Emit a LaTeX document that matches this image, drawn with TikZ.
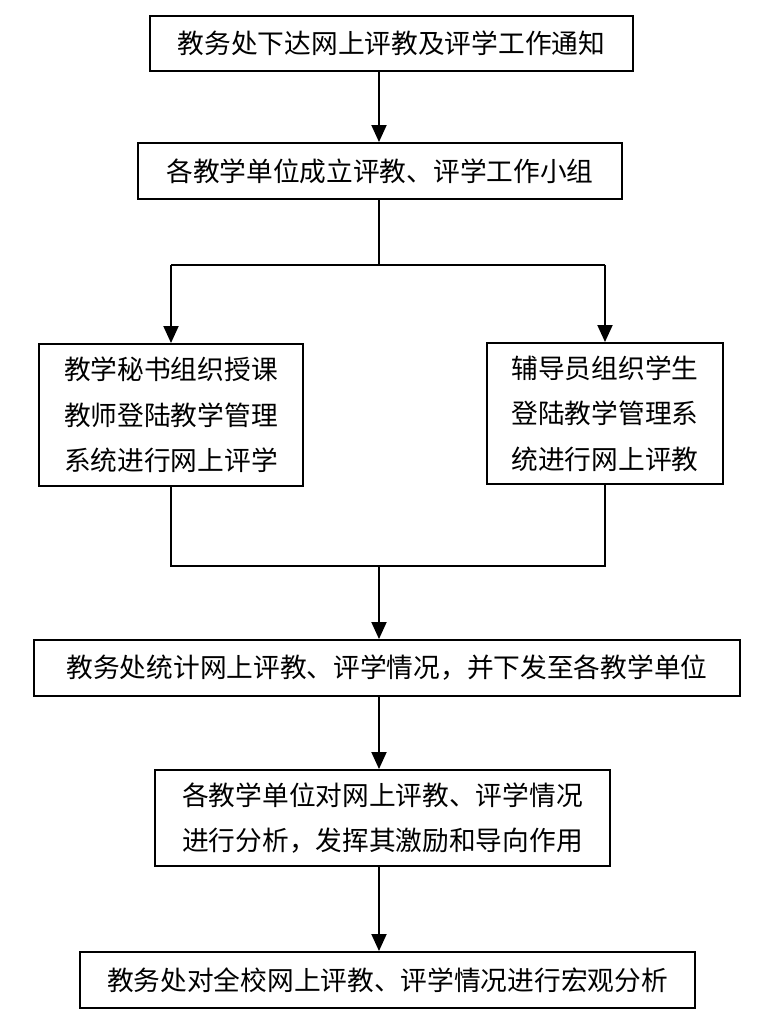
\documentclass[tikz,border=0pt]{standalone}
\usepackage{fontspec}
\usepackage{tikz}
\usetikzlibrary{arrows.meta}
\newfontfamily\cjk{Noto Sans CJK SC}

\tikzset{
  stepbox/.style={draw, line width=1.1pt, inner sep=0pt, align=center,
    font=\cjk\fontsize{15.2pt}{26pt}\selectfont},
}

\begin{document}
\begin{tikzpicture}[line width=1.1pt, >={Triangle[width=0.3cm,length=0.34cm]}]
\useasboundingbox (0,0) rectangle (15.52,20.48);

\node[stepbox, minimum width=9.66cm, minimum height=1.1cm] (notice) at (7.83,19.61) {教务处下达网上评教及评学工作通知};
\node[stepbox, minimum width=9.68cm, minimum height=1.12cm] (group) at (7.60,17.06) {各教学单位成立评教、评学工作小组};
\node[stepbox, minimum width=5.28cm, minimum height=2.84cm] (secr) at (3.42,12.18) {教学秘书组织授课\\教师登陆教学管理\\系统进行网上评学};
\node[stepbox, minimum width=4.72cm, minimum height=2.82cm] (couns) at (12.10,12.21) {辅导员组织学生\\登陆教学管理系\\统进行网上评教};
\node[stepbox, minimum width=14.12cm, minimum height=1.12cm] (stat) at (7.74,7.12) {教务处统计网上评教、评学情况，并下发至各教学单位};
\node[stepbox, minimum width=9.10cm, minimum height=1.92cm] (anal) at (7.65,4.12) {各教学单位对网上评教、评学情况\\进行分析，发挥其激励和导向作用};
\node[stepbox, minimum width=12.30cm, minimum height=1.12cm] (macro) at (7.75,0.88) {教务处对全校网上评教、评学情况进行宏观分析};

\coordinate (fork) at (7.58,15.18);
\coordinate (join) at (7.58,9.16);

\draw[->] (notice.south -| fork) -- (group.north -| fork);
\draw (group.south -| fork) -- (fork);
\draw (fork -| secr) -- (fork -| couns);
\draw[->] (fork -| secr) -- (secr.north);
\draw[->] (fork -| couns) -- (couns.north);
\draw (secr.south) -- (join -| secr) -- (join -| couns) -- (couns.south);
\draw[->] (join) -- (stat.north -| join);
\draw[->] (stat.south -| join) -- (anal.north -| join);
\draw[->] (anal.south -| join) -- (macro.north -| join);

\end{tikzpicture}
\end{document}
